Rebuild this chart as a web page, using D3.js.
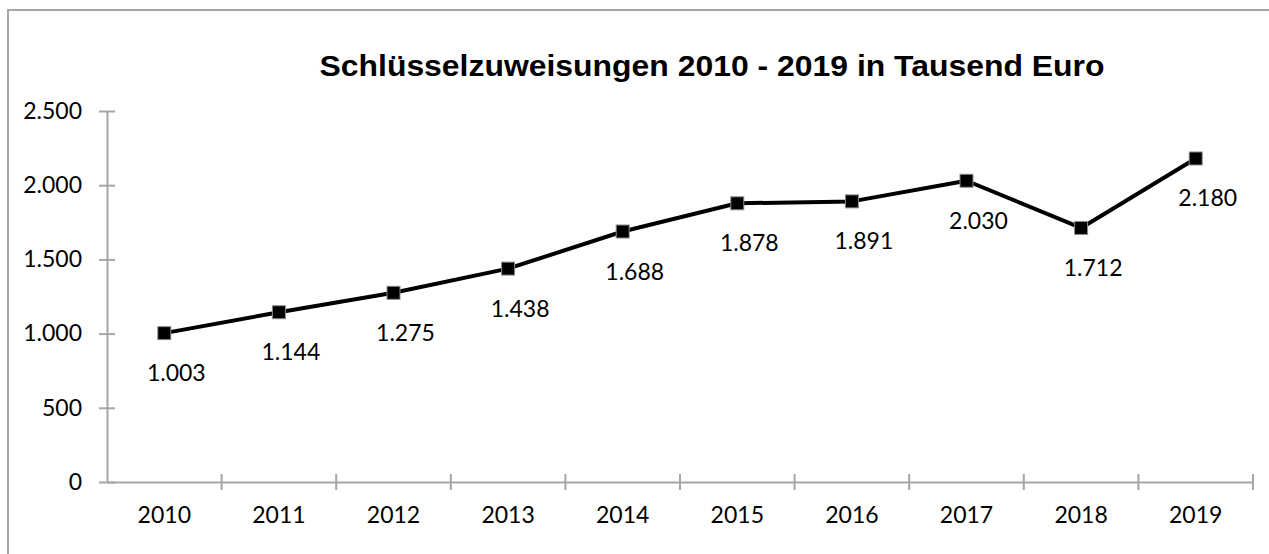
<!DOCTYPE html>
<html>
<head>
<meta charset="utf-8">
<script src="https://cdn.jsdelivr.net/npm/d3@7"></script>
<style>
  body { margin: 0; background: #fff; }
  svg { display: block; }
</style>
</head>
<body>
<div id="chart"></div>
<script>
// data
const years = ["2010", "2011", "2012", "2013", "2014", "2015", "2016", "2017", "2018", "2019"];
const values = [1003, 1144, 1275, 1438, 1688, 1878, 1891, 2030, 1712, 2180];
const yTicks = [0, 500, 1000, 1500, 2000, 2500];
const chartTitle = "Schlüsselzuweisungen 2010 - 2019 in Tausend Euro";

const W = 1269, H = 554;
const margin = {top: 111, right: 16, bottom: 72, left: 107};
const width = W - margin.left - margin.right,
      height = H - margin.top - margin.bottom;

const de = d3.formatLocale({decimal: ",", thousands: ".", grouping: [3], currency: ["", " €"]});
const fmt = de.format(",d");

const svg = d3.select("#chart").append("svg")
    .attr("width", W)
    .attr("height", H);

// outer frame (only top and left visible in the crop)
svg.append("rect")
    .attr("x", 8).attr("y", 10)
    .attr("width", W + 20).attr("height", H + 20)
    .attr("fill", "none")
    .attr("stroke", "#a6a6a6")
    .attr("stroke-width", 2);

const title = svg.append("text")
    .attr("x", 712)
    .attr("y", 76)
    .attr("text-anchor", "middle")
    .style("font-family", "'Liberation Sans', Arial, sans-serif")
    .style("font-weight", "bold")
    .style("font-size", "30px")
    .text(chartTitle);
// stretch to the width seen in the picture
title.attr("textLength", 785).attr("lengthAdjust", "spacingAndGlyphs");

const g = svg.append("g")
    .attr("transform", "translate(" + margin.left + "," + margin.top + ")");

const x = d3.scaleBand()
    .domain(years)
    .range([0, width]);

const y = d3.scaleLinear()
    .domain([0, 2500])
    .range([height, 0]);

const axisColor = "#a6a6a6";
const labelFont = "Lato, 'Open Sans', sans-serif";

// y axis
const yAxis = g.append("g")
    .call(d3.axisLeft(y).tickValues(yTicks).tickFormat(fmt).tickSize(0).tickPadding(25));
yAxis.select(".domain").attr("stroke", axisColor).attr("stroke-width", 2);
yAxis.selectAll(".tick text")
    .style("font-family", labelFont)
    .style("font-size", "23px")
    .attr("fill", "#000");
yAxis.selectAll(".tick line").remove();
yAxis.selectAll(".tick").append("line")
    .attr("x1", -8).attr("x2", 8)
    .attr("stroke", axisColor).attr("stroke-width", 2);

// x axis with ticks between categories
const xAxis = g.append("g")
    .attr("transform", "translate(0," + height + ")")
    .call(d3.axisBottom(x).tickSize(0).tickPadding(25));
xAxis.select(".domain").attr("stroke", axisColor).attr("stroke-width", 2);
xAxis.selectAll(".tick text")
    .style("font-family", labelFont)
    .style("font-size", "23px")
    .attr("fill", "#000");
xAxis.selectAll(".sep")
    .data(years.slice(1).concat(["end"]))
    .enter().append("line")
    .attr("class", "sep")
    .attr("x1", (d, i) => x(years[i]) + x.bandwidth())
    .attr("x2", (d, i) => x(years[i]) + x.bandwidth())
    .attr("y1", -8).attr("y2", 8)
    .attr("stroke", axisColor).attr("stroke-width", 2);

const cx = d => x(d) + x.bandwidth() / 2;

// line
g.append("path")
    .datum(values)
    .attr("fill", "none")
    .attr("stroke", "#000")
    .attr("stroke-width", 4)
    .attr("stroke-linejoin", "round")
    .attr("d", d3.line()
        .x((d, i) => cx(years[i]))
        .y(d => y(d)));

// markers
g.selectAll(".marker")
    .data(values)
    .enter().append("rect")
    .attr("class", "marker")
    .attr("x", (d, i) => cx(years[i]) - 6.5)
    .attr("y", d => y(d) - 6.5)
    .attr("width", 13).attr("height", 13)
    .attr("fill", "#000")
    .attr("stroke", "#8c8c8c")
    .attr("stroke-width", 1);

// data labels below points
g.selectAll(".dlabel")
    .data(values)
    .enter().append("text")
    .attr("class", "dlabel")
    .attr("x", (d, i) => cx(years[i]) + 12)
    .attr("y", d => y(d) + 48)
    .attr("text-anchor", "middle")
    .style("font-family", labelFont)
    .style("font-size", "23px")
    .attr("fill", "#000")
    .text(d => fmt(d));
</script>
</body>
</html>
